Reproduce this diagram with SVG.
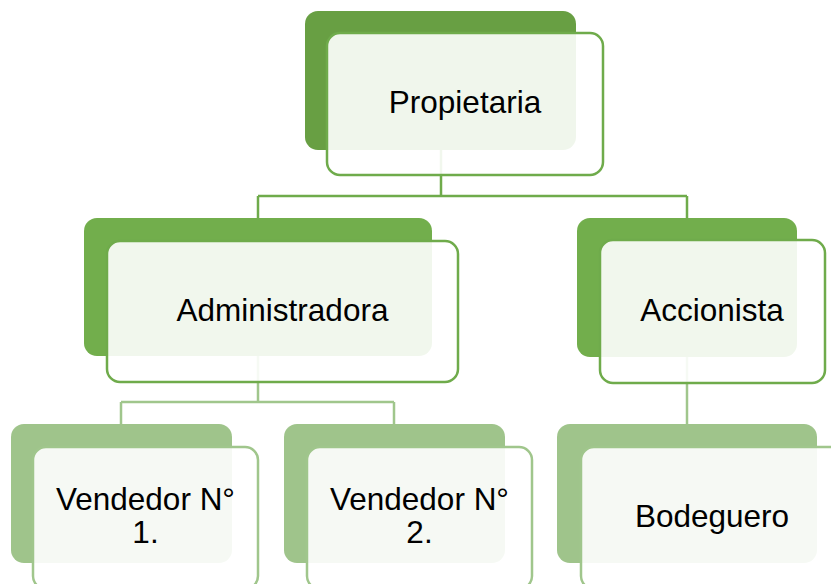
<svg xmlns="http://www.w3.org/2000/svg" width="831" height="584" viewBox="0 0 831 584">
<style>
.back1{fill:#689f43}
.back2{fill:#72ae4c}
.back3{fill:#9fc48b}
.front{fill:#ffffff;fill-opacity:0.9;stroke-width:2.5}
.f12{stroke:#6fab4b}
.f3{stroke:#a0c68c}
.c1{fill:none;stroke:#6fab4b;stroke-width:2.5}
.c2{fill:none;stroke:#a0c68c;stroke-width:2.5}
text{font-family:"Liberation Sans",Arial,sans-serif;font-size:31.5px;fill:#000;text-anchor:middle}
</style>
<rect width="831" height="584" fill="#ffffff"/>
<g id="connectors">
<path class="c1" d="M441,150 V196 M258,196 H687 M258,196 V218 M687,196 V218"/>
<path class="c2" d="M258,356 V402 M121,402 H394 M121,402 V424 M394,402 V424"/>
<path class="c2" d="M687,357 V424"/>
</g>
<g id="propietaria">
<rect class="back1" x="305" y="11" width="271" height="139" rx="13"/>
<rect class="front f12" x="327" y="33" width="276" height="142" rx="13"/>
<text x="465" y="113">Propietaria</text>
</g>
<g id="administradora">
<rect class="back2" x="84" y="218" width="348" height="138" rx="13"/>
<rect class="front f12" x="107" y="241" width="351" height="141" rx="13"/>
<text x="282.5" y="321">Administradora</text>
</g>
<g id="accionista">
<rect class="back2" x="577" y="218" width="220" height="139" rx="13"/>
<rect class="front f12" x="600" y="240" width="225" height="143" rx="13"/>
<text x="712" y="321">Accionista</text>
</g>
<g id="vendedor1">
<rect class="back3" x="11" y="424" width="221" height="139" rx="13"/>
<rect class="front f3" x="33" y="447" width="225" height="142" rx="13"/>
<text x="145.5" y="510">Vendedor N°</text>
<text x="145.5" y="543">1.</text>
</g>
<g id="vendedor2">
<rect class="back3" x="284" y="424" width="221" height="139" rx="13"/>
<rect class="front f3" x="307" y="447" width="225" height="142" rx="13"/>
<text x="419.5" y="510">Vendedor N°</text>
<text x="419.5" y="543">2.</text>
</g>
<g id="bodeguero">
<rect class="back3" x="557" y="424" width="260" height="139" rx="13"/>
<rect class="front f3" x="581" y="447" width="264" height="142" rx="13"/>
<text x="712" y="527">Bodeguero</text>
</g>
</svg>
